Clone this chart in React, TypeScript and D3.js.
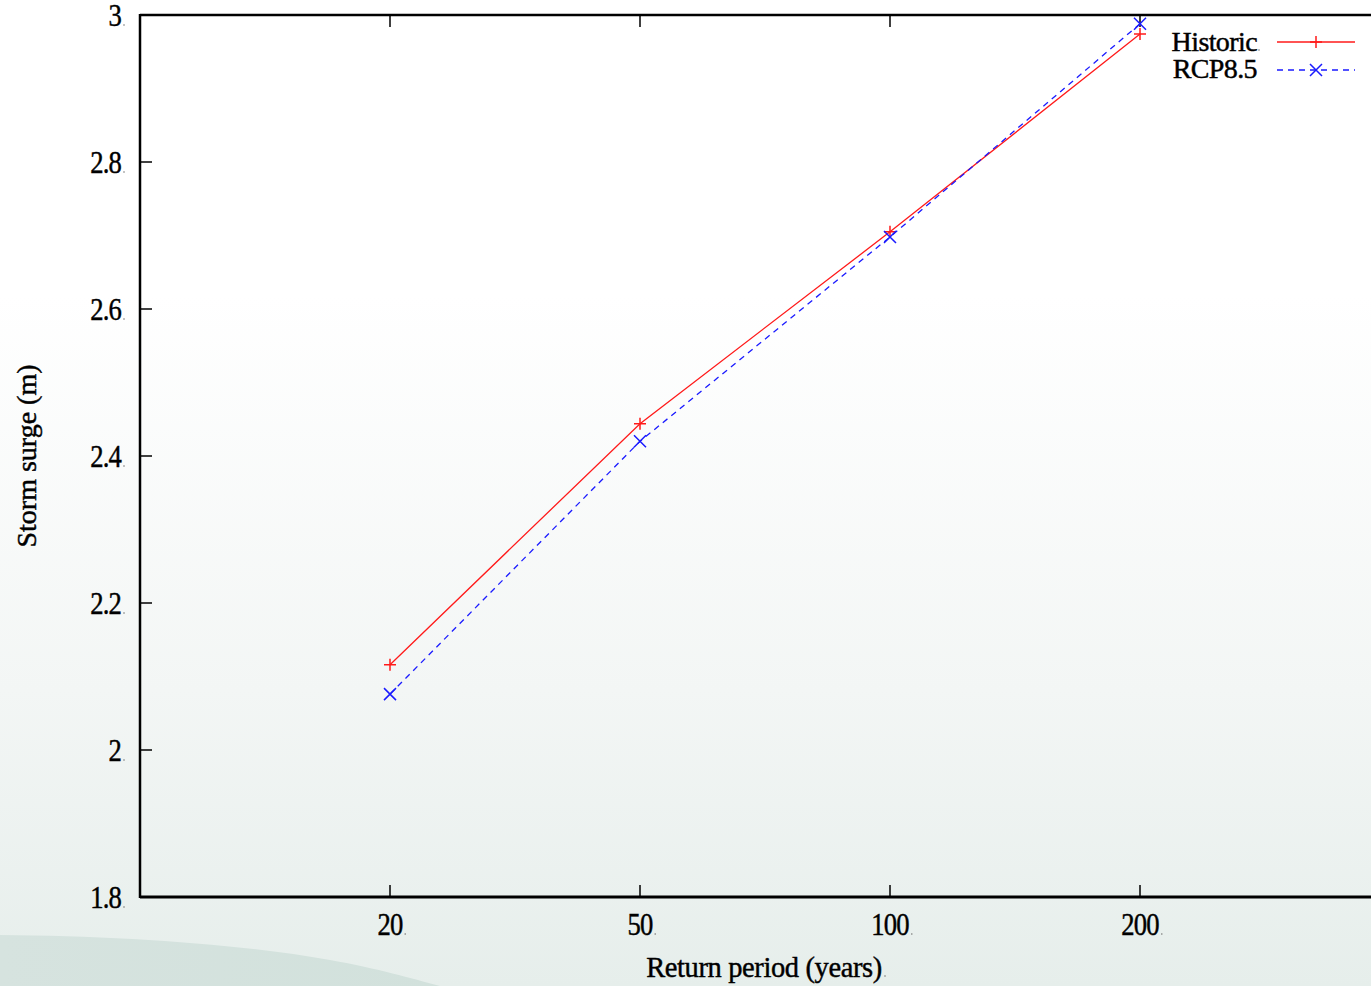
import React from "react";
import * as d3 from "d3";

// Return periods (years) and storm surge levels (m)
const returnPeriods = ["20", "50", "100", "200"];
const historic = [2.116, 2.444, 2.705, 2.974];
const rcp85 = [2.076, 2.42, 2.698, 2.988];
const yTicks = [1.8, 2, 2.2, 2.4, 2.6, 2.8, 3];

const W = 1371;
const H = 986;
const FONT = "'Liberation Serif', 'Times New Roman', serif";

// heavier text rendering for the labels
const ink = { fill: "#000", stroke: "#000", strokeWidth: 0.45 };

export default function App() {
  const x = d3.scaleLinear().domain([-1, 4]).range([140, 1390]);
  const y = d3.scaleLinear().domain([1.8, 3]).range([897, 15]);

  const line = d3
    .line<number>()
    .x((_, i) => x(i))
    .y((d) => y(d));

  const plus = (cx: number, cy: number, s = 6) =>
    `M${cx - s},${cy}H${cx + s}M${cx},${cy - s}V${cy + s}`;
  const cross = (cx: number, cy: number, s = 6) =>
    `M${cx - s},${cy - s}L${cx + s},${cy + s}M${cx - s},${cy + s}L${cx + s},${cy - s}`;

  const fmt = (v: number) => (Number.isInteger(v) ? String(v) : v.toFixed(1));

  const [x0] = x.range();
  const yTop = y(3);
  const yBot = y(1.8);

  return (
    <svg
      width={W}
      height={H}
      style={{ position: "absolute", left: 0, top: 0, display: "block" }}
      fontFamily={FONT}
    >
      <defs>
        <linearGradient id="bg" x1="0" y1="0" x2="0" y2="1">
          <stop offset="0" stopColor="#ffffff" />
          <stop offset="0.3" stopColor="#ffffff" />
          <stop offset="0.7" stopColor="#f3f6f5" />
          <stop offset="1" stopColor="#e6eeeb" />
        </linearGradient>
        <linearGradient id="swoosh" x1="0" y1="0" x2="1" y2="0">
          <stop offset="0" stopColor="#d6e3df" />
          <stop offset="1" stopColor="#d2e1dc" />
        </linearGradient>
      </defs>
      <rect x={0} y={0} width={W} height={H} fill="url(#bg)" />
      <path
        d="M0,935 C120,936 240,944 330,960 C380,969 410,978 440,986 L0,986 Z"
        fill="url(#swoosh)"
      />

      {/* frame: left, top and bottom edges */}
      <g stroke="#000" fill="none">
        <line x1={x0} x2={x0} y1={yTop - 1} y2={yBot + 1} strokeWidth={2.5} />
        <line x1={x0} x2={W} y1={yTop} y2={yTop} strokeWidth={2.5} />
        <line x1={x0} x2={W} y1={yBot} y2={yBot} strokeWidth={3} />
      </g>

      {/* y axis ticks and labels */}
      {yTicks.map((t) => (
        <g key={t}>
          {t !== 1.8 && t !== 3 && (
            <line x1={x0} x2={x0 + 12} y1={y(t)} y2={y(t)} stroke="#000" strokeWidth={1.5} />
          )}
          <text
            transform={`translate(121,${y(t) + 11}) scale(0.86,1)`}
            textAnchor="end"
            fontSize={31}
            letterSpacing={-1}
            {...ink}
          >
            {fmt(t)}
          </text>
          <circle cx={124} cy={y(t) + 10} r={0.8} fill="#777" />
        </g>
      ))}

      {/* x axis ticks and labels */}
      {returnPeriods.map((p, i) => (
        <g key={p}>
          <line x1={x(i)} x2={x(i)} y1={yBot} y2={yBot - 12} stroke="#000" strokeWidth={1.5} />
          <line x1={x(i)} x2={x(i)} y1={yTop} y2={yTop + 12} stroke="#000" strokeWidth={1.5} />
          <text
            transform={`translate(${x(i)},935) scale(0.86,1)`}
            textAnchor="middle"
            fontSize={31}
            letterSpacing={-1}
            {...ink}
          >
            {p}
          </text>
          <circle cx={x(i) + p.length * 6.6 + 2} cy={934} r={0.8} fill="#777" />
        </g>
      ))}

      {/* axis titles */}
      <text
        transform="translate(764,977) scale(0.95,1)"
        textAnchor="middle"
        fontSize={30}
        letterSpacing={-0.4}
        {...ink}
      >
        Return period (years)
      </text>
      <circle cx={885} cy={976} r={0.8} fill="#777" />
      <text
        transform="translate(36,456) rotate(-90)"
        textAnchor="middle"
        fontSize={28}
        {...ink}
      >
        Storm surge (m)
      </text>

      {/* series */}
      <path d={line(historic) ?? ""} fill="none" stroke="#ff1a1a" strokeWidth={1.3} />
      <path
        d={line(rcp85) ?? ""}
        fill="none"
        stroke="#1a1aff"
        strokeWidth={1.3}
        strokeDasharray="6,5"
      />
      {historic.map((v, i) => (
        <path key={`h${i}`} d={plus(x(i), y(v))} stroke="#ff1a1a" strokeWidth={1.5} fill="none" />
      ))}
      {rcp85.map((v, i) => (
        <path key={`r${i}`} d={cross(x(i), y(v))} stroke="#1a1aff" strokeWidth={1.5} fill="none" />
      ))}

      {/* legend */}
      <text
        transform="translate(1257,51) scale(1,1)"
        textAnchor="end"
        fontSize={28}
        letterSpacing={-0.6}
        {...ink}
      >
        Historic
      </text>
      <circle cx={1259} cy={50} r={0.8} fill="#777" />
      <line x1={1277} x2={1355} y1={42} y2={42} stroke="#ff1a1a" strokeWidth={1.3} />
      <path d={plus(1316, 42)} stroke="#ff1a1a" strokeWidth={1.5} fill="none" />
      <text
        transform="translate(1257,78) scale(1,1)"
        textAnchor="end"
        fontSize={28}
        letterSpacing={-0.6}
        {...ink}
      >
        RCP8.5
      </text>
      <line
        x1={1277}
        x2={1355}
        y1={70}
        y2={70}
        stroke="#1a1aff"
        strokeWidth={1.3}
        strokeDasharray="6,5"
      />
      <path d={cross(1316, 70)} stroke="#1a1aff" strokeWidth={1.5} fill="none" />
    </svg>
  );
}
